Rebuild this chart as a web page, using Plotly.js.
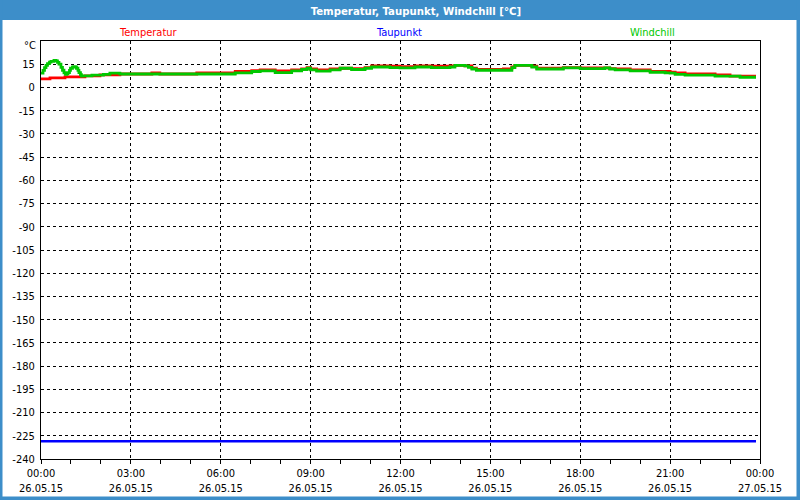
<!DOCTYPE html>
<html>
<head>
<meta charset="utf-8">
<script src="https://cdn.plot.ly/plotly-3.0.1.min.js"></script>
<style>
  html, body { margin: 0; padding: 0; background: #ffffff; }
  #chart { width: 800px; height: 500px; }
</style>
</head>
<body>
<div id="chart"></div>
<script>
// ---- Data ----
const day = '2015-05-26';

const tempTimes = ['00:00','00:18','00:48','01:28','01:58','02:38','03:42','03:58','05:12','06:29','07:02','07:19','07:49','08:22','08:42','08:53','09:00','09:12','09:39','09:59','10:22','10:49','11:02','11:39','11:59','12:29','13:02','13:39','13:49','14:09','14:23','14:32','15:26','15:43','15:49','16:23','16:33','17:26','18:00','18:59','19:10','19:40','20:20','20:50','21:00','21:10','21:30','22:30','23:00','23:52'];
const tempValues = [5.5,6.2,6.8,7.5,8.1,8.7,9.4,8.7,9.4,10.3,10.9,11.3,10.7,11.3,12.0,12.8,11.9,11.3,11.9,12.4,12.2,12.8,13.9,13.7,13.5,13.9,13.7,13.9,14.3,13.9,12.4,11.6,12.0,13.2,14.3,13.7,12.4,12.8,12.6,12.2,11.9,11.3,10.4,10.3,9.8,9.4,8.7,8.1,7.3,7.3];

const dewTimes = ['00:00','23:52'];
const dewValues = [-228.6,-228.6];

const chillTimes = ['00:00','00:04','00:07','00:10','00:13','00:17','00:20','00:26','00:30','00:33','00:36','00:40','00:43','00:46','00:49','00:52','00:54','00:57','00:59','01:03','01:06','01:09','01:11','01:14','01:16','01:19','01:21','01:24','01:42','02:05','02:18','02:38','06:29','07:02','07:19','07:49','08:22','08:42','08:53','09:00','09:12','09:39','09:59','10:22','10:49','11:02','11:39','11:59','12:29','13:02','13:39','13:49','14:09','14:16','14:23','14:32','15:43','15:49','16:23','16:33','17:26','18:00','18:49','18:59','19:10','19:40','20:20','20:50','21:00','21:10','21:30','22:30','23:20','23:52'];
const chillValues = [9.2,11.0,12.8,14.3,15.4,16.3,16.9,17.5,17.2,16.2,15.0,13.0,11.1,9.5,8.5,9.0,9.6,11.0,12.4,13.2,13.5,13.2,12.4,11.0,9.6,8.3,7.3,7.5,8.0,8.5,9.2,8.7,9.4,10.3,10.7,9.6,10.7,11.6,12.4,11.3,10.5,11.3,12.4,11.6,12.4,13.2,12.8,12.6,13.2,12.8,13.2,14.3,13.9,13.0,11.9,11.1,12.8,14.3,13.2,11.9,12.6,12.2,12.6,11.9,11.3,10.7,9.8,9.4,9.2,8.5,7.9,7.3,6.6,6.6];

const seriesNames = ['Temperatur','Taupunkt','Windchill'];
const seriesColors = ['#ff0000','#0000ff','#00c800'];

const yTickVals = [-240,-225,-210,-195,-180,-165,-150,-135,-120,-105,-90,-75,-60,-45,-30,-15,0,15];
const titleText = 'Temperatur, Taupunkt, Windchill [°C]';
const unitLabel = '°C';

// ---- Build ----
const toDate = t => day + ' ' + t;

const traces = [
  {x: tempTimes.map(toDate), y: tempValues, name: seriesNames[0], mode: 'lines',
   line: {color: seriesColors[0], width: 2.8, shape: 'hv'}},
  {x: dewTimes.map(toDate), y: dewValues, name: seriesNames[1], mode: 'lines',
   line: {color: seriesColors[1], width: 2.5}},
  {x: chillTimes.map(toDate), y: chillValues, name: seriesNames[2], mode: 'lines',
   line: {color: seriesColors[2], width: 2.8, shape: 'hv'}}
];

const L = 41, R = 40, T = 41, B = 41, W = 800, H = 500;
const pw = W - L - R, ph = H - T - B;
const px = v => (v - L) / pw;
const py = v => (H - B - v) / ph;
const barColor = '#3d8ec9';
const font = '"DejaVu Sans Condensed", "DejaVu Sans", sans-serif';

const legendX = [148, 399, 652];

const layout = {
  width: W, height: H,
  margin: {l: L, r: R, t: T, b: B, pad: 0},
  paper_bgcolor: '#ffffff',
  plot_bgcolor: '#ffffff',
  showlegend: false,
  hovermode: false,
  font: {family: font, size: 11, color: '#000000'},
  title: {
    text: '<b>' + titleText + '</b>',
    font: {family: font, size: 11.3, color: '#ffffff'},
    x: 416 / W, xref: 'container', xanchor: 'center',
    y: 1 - 11 / H, yref: 'container', yanchor: 'middle'
  },
  xaxis: {
    type: 'date',
    range: [day + ' 00:00', '2015-05-27 00:00'],
    dtick: 3 * 3600000,
    tick0: day + ' 00:00',
    tickformat: '%H:%M<br>%d.%m.%y',
    ticks: 'outside', ticklen: 4, tickcolor: '#000000',
    minor: {dtick: 3600000, ticks: 'outside', ticklen: 4, tickcolor: '#000000', showgrid: false},
    showgrid: true, gridcolor: '#000000', gridwidth: 1, griddash: '3px,3px',
    showline: true, linecolor: '#000000', linewidth: 1, mirror: true,
    zeroline: false,
    tickfont: {family: font, size: 11, color: '#000000'}
  },
  yaxis: {
    range: [-240, 30],
    tickvals: yTickVals,
    ticktext: yTickVals.map(String),
    ticks: '', ticklabelstandoff: 3,
    showgrid: true, gridcolor: '#000000', gridwidth: 1, griddash: '3px,3px',
    showline: true, linecolor: '#000000', linewidth: 1, mirror: true,
    zeroline: false,
    tickfont: {family: font, size: 11, color: '#000000'}
  },
  shapes: [
    {type: 'rect', xref: 'paper', yref: 'paper', x0: px(0), x1: px(800), y0: py(20), y1: py(0),
     fillcolor: barColor, line: {width: 0}, layer: 'below'},
    {type: 'rect', xref: 'paper', yref: 'paper', x0: px(0), x1: px(2.5), y0: py(500), y1: py(0),
     fillcolor: barColor, line: {width: 0}, layer: 'below'},
    {type: 'rect', xref: 'paper', yref: 'paper', x0: px(796.5), x1: px(800), y0: py(500), y1: py(0),
     fillcolor: barColor, line: {width: 0}, layer: 'below'},
    {type: 'rect', xref: 'paper', yref: 'paper', x0: px(0), x1: px(800), y0: py(500), y1: py(496.5),
     fillcolor: barColor, line: {width: 0}, layer: 'below'}
  ],
  annotations: seriesNames.map((n, i) => ({
    text: n, xref: 'paper', yref: 'paper', x: px(legendX[i]), y: py(32),
    xanchor: 'center', yanchor: 'middle', showarrow: false,
    font: {family: font, size: 11, color: seriesColors[i]}
  })).concat([{
    text: unitLabel, xref: 'paper', yref: 'paper', x: 0, xshift: -3, y: py(45),
    xanchor: 'right', yanchor: 'middle', showarrow: false,
    font: {family: font, size: 11, color: '#000000'}
  }])
};

Plotly.newPlot('chart', traces, layout, {staticPlot: true, displayModeBar: false});
</script>
</body>
</html>
